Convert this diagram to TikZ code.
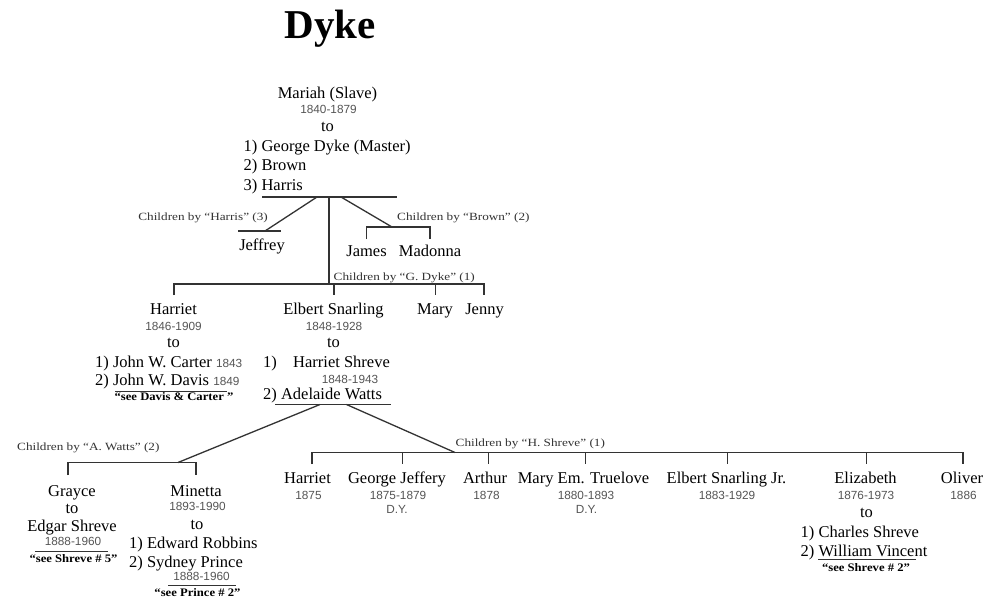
\documentclass[tikz,border=0pt]{standalone}
\usepackage{fontspec}
\setmainfont{Liberation Serif}
\newfontfamily\datefamily{Liberation Sans}
\newfontfamily\labfamily[FakeStretch=1.2]{Liberation Serif}
\newfontfamily\seefamily[FakeStretch=1.1]{Liberation Serif Bold}
\definecolor{ink}{HTML}{333333}
\definecolor{dategray}{HTML}{555555}
\begin{document}
\begin{tikzpicture}[x=1pt,y=-1pt,
  nm/.style={inner sep=0pt,anchor=base,font=\fontsize{16.5}{18}\selectfont},
  nml/.style={nm,anchor=base west},
  dt/.style={inner sep=0pt,anchor=base,text=dategray,font=\datefamily\fontsize{11.8}{12}\selectfont},
  lab/.style={inner sep=0pt,anchor=base,text=ink,font=\labfamily\fontsize{11}{12}\selectfont},
  see/.style={inner sep=0pt,anchor=base,font=\seefamily\fontsize{11.5}{12}\selectfont},
  ln/.style={draw=ink,line width=1.3pt}]
\useasboundingbox (0,0) rectangle (988,605);
\fill[white] (0,0) rectangle (988,605);

% title
\node[inner sep=0pt,anchor=base,font=\bfseries\fontsize{41}{44}\selectfont] (title) at (330,38) {Dyke};

% Mariah
\node[nm] (mariah) at (327.5,98) {Mariah (Slave)};
\node[dt] (mariahd) at (328.5,113) {1840-1879};
\node[nm] (mariahto) at (327.5,131) {to};
\node[nml] (m1) at (243.5,151.5) {1) George Dyke (Master)};
\node[nml] (m2) at (243.5,170.5) {2) Brown};
\node[nml] (m3) at (243.5,190) {3) Harris};
\coordinate (mL) at (262,197);
\coordinate (mR) at (397,197);
\draw[ln] (mL) -- (mR);

% Harris branch
\coordinate (hA) at (317,197);
\coordinate (hB) at (265,231);
\coordinate (jL) at (238,231);
\coordinate (jR) at (281,231);
\draw[ln] (hA) -- (hB);
\draw[ln] (jL) -- (jR);
\node[lab,anchor=base east] (labH) at (268,220) {Children by “Harris” (3)};
\node[nm] (jeffrey) at (262,250) {Jeffrey};

% Brown branch
\coordinate (bA) at (341,197);
\coordinate (bB) at (392,227);
\coordinate (bL) at (366.5,227);
\coordinate (bR) at (430,227);
\coordinate (bLd) at (366.5,239);
\coordinate (bRd) at (430,239);
\draw[ln] (bA) -- (bB);
\draw[ln] (bLd) -- (bL) -- (bR) -- (bRd);
\node[lab,anchor=base west] (labB) at (397,220) {Children by “Brown” (2)};
\node[nm] (james) at (366.5,256.5) {James};
\node[nm] (madonna) at (430,256.5) {Madonna};

% G. Dyke branch
\coordinate (gA) at (329,197);
\coordinate (gB) at (329,284);
\draw[ln] (gA) -- (gB);
\coordinate (g1) at (174,284);
\coordinate (g2) at (334,284);
\coordinate (g3) at (435.5,284);
\coordinate (g4) at (484,284);
\coordinate (g1d) at (174,295);
\coordinate (g2d) at (334,295);
\coordinate (g3d) at (435.5,295);
\coordinate (g4d) at (484,295);
\draw[ln] (g1d) -- (g1) -- (g4) -- (g4d);
\draw[ln] (g2) -- (g2d);
\draw[ln] (g3) -- (g3d);
\node[lab,anchor=base west] (labG) at (333.5,280.5) {Children by “G. Dyke” (1)};

% Harriet
\node[nm] (harriet) at (173.5,314.5) {Harriet};
\node[dt] (harrietd) at (173.5,330) {1846-1909};
\node[nm] (harrietto) at (173.5,347.5) {to};
\node[nml] (h1) at (95,367.5) {1) John W. Carter {\datefamily\fontsize{11.8}{12}\selectfont\color{dategray}1843}};
\node[nml] (h2) at (95,385.5) {2) John W. Davis {\datefamily\fontsize{11.8}{12}\selectfont\color{dategray}1849}};
\coordinate (huL) at (115,391);
\coordinate (huR) at (227,391);
\draw[ln,line width=1pt] (huL) -- (huR);
\node[see] (hsee) at (174,400.5) {“see Davis \& Carter ”};

% Elbert
\node[nm] (elbert) at (333.5,314.5) {Elbert Snarling};
\node[dt] (elbertd) at (334,330) {1848-1928};
\node[nm] (elbertto) at (333.5,347.5) {to};
\node[nml] (e1) at (263,367.5) {1)};
\node[nml] (e1n) at (293,367.5) {Harriet Shreve};
\node[dt] (e1d) at (350,383.5) {1848-1943};
\node[nml] (e2) at (263,399.5) {2) Adelaide Watts};
\coordinate (euL) at (275,404.5);
\coordinate (euR) at (391,404.5);
\draw[ln] (euL) -- (euR);

% Mary, Jenny
\node[nm] (mary) at (435,314.5) {Mary};
\node[nm] (jenny) at (484.5,314.5) {Jenny};

% A. Watts branch
\coordinate (wA) at (320,404.5);
\coordinate (wB) at (178,462.5);
\coordinate (w1) at (68,462.5);
\coordinate (w2) at (196,462.5);
\coordinate (w1d) at (68,475);
\coordinate (w2d) at (196,475);
\draw[ln] (wA) -- (wB);
\draw[ln] (w1d) -- (w1) -- (w2) -- (w2d);
\node[lab,anchor=base west] (labW) at (17,450.5) {Children by “A. Watts” (2)};

% Grayce
\node[nm] (grayce) at (72,496.5) {Grayce};
\node[nm] (grayceto) at (72,513.5) {to};
\node[nm] (edgar) at (72,531.5) {Edgar Shreve};
\node[dt] (edgard) at (73,545) {1888-1960};
\coordinate (guL) at (35,551.5);
\coordinate (guR) at (108,551.5);
\draw[ln,line width=1pt] (guL) -- (guR);
\node[see] (gsee) at (73.5,562) {“see Shreve \# 5”};

% Minetta
\node[nm] (minetta) at (196,496.5) {Minetta};
\node[dt] (minettad) at (197.5,510) {1893-1990};
\node[nm] (minettato) at (197,529) {to};
\node[nml] (mi1) at (129,548.5) {1) Edward Robbins};
\node[nml] (mi2) at (129,567.5) {2) Sydney Prince};
\node[dt] (mi2d) at (201.5,580) {1888-1960};
\coordinate (puL) at (168,585.5);
\coordinate (puR) at (236,585.5);
\draw[ln,line width=1pt] (puL) -- (puR);
\node[see] (psee) at (197.5,596) {“see Prince \# 2”};

% H. Shreve branch
\coordinate (sA) at (346.5,404.5);
\coordinate (sB) at (455,452.5);
\draw[ln] (sA) -- (sB);
\coordinate (s1) at (312,452.5);
\coordinate (s2) at (402.5,452.5);
\coordinate (s3) at (488.5,452.5);
\coordinate (s4) at (585.5,452.5);
\coordinate (s5) at (727.5,452.5);
\coordinate (s6) at (866.5,452.5);
\coordinate (s7) at (963,452.5);
\coordinate (s1d) at (312,464);
\coordinate (s2d) at (402.5,464);
\coordinate (s3d) at (488.5,464);
\coordinate (s4d) at (585.5,464);
\coordinate (s5d) at (727.5,464);
\coordinate (s6d) at (866.5,464);
\coordinate (s7d) at (963,464);
\draw[ln] (s1d) -- (s1) -- (s7) -- (s7d);
\foreach \i in {2,...,6} {\draw[ln] (s\i) -- (s\i d);}
\node[lab,anchor=base west] (labS) at (455.5,446.5) {Children by “H. Shreve” (1)};

\node[nm] (c1) at (307.5,483.5) {Harriet};
\node[dt] (c1d) at (308.5,499) {1875};
\node[nm] (c2) at (397,483.5) {George Jeffery};
\node[dt] (c2d) at (398,499) {1875-1879};
\node[dt] (c2y) at (397,513.5) {D.Y.};
\node[nm] (c3) at (485,483.5) {Arthur};
\node[dt] (c3d) at (486.5,499) {1878};
\node[nm] (c4) at (583.5,483.5) {Mary Em. Truelove};
\node[dt] (c4d) at (586,499) {1880-1893};
\node[dt] (c4y) at (586.5,513.5) {D.Y.};
\node[nm] (c5) at (726.5,483.5) {Elbert Snarling Jr.};
\node[dt] (c5d) at (727,499) {1883-1929};
\node[nm] (c6) at (865.5,483.5) {Elizabeth};
\node[dt] (c6d) at (866,499) {1876-1973};
\node[nm] (c6to) at (866.5,517.5) {to};
\node[nml] (c61) at (800.5,537) {1) Charles Shreve};
\node[nml] (c62) at (800.5,556) {2) William Vincent};
\coordinate (zuL) at (818,559.5);
\coordinate (zuR) at (916,559.5);
\draw[ln,line width=1pt] (zuL) -- (zuR);
\node[see] (zsee) at (866,571) {“see Shreve \# 2”};
\node[nm] (c7) at (962,483.5) {Oliver};
\node[dt] (c7d) at (963.5,499) {1886};
\end{tikzpicture}
\end{document}
